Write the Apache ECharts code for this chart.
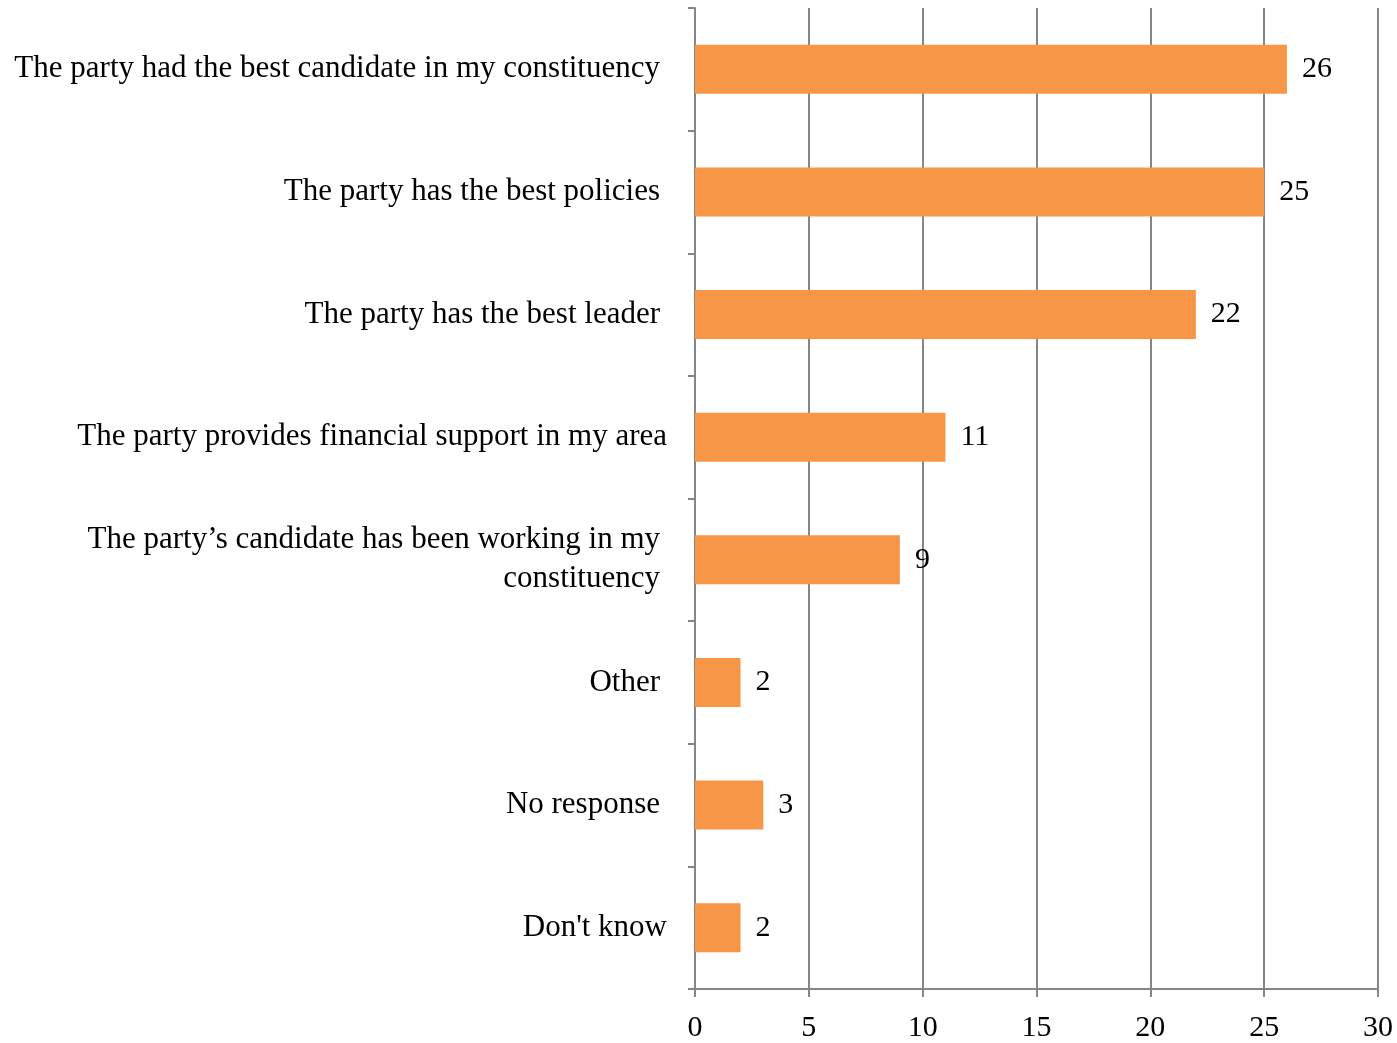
<!DOCTYPE html>
<html>
<head>
<meta charset="utf-8">
<script src="https://cdn.jsdelivr.net/npm/echarts@6/dist/echarts.min.js"></script>
<style>html,body{margin:0;padding:0;background:#fff}#c{width:1397px;height:1043px}</style>
</head>
<body>
<div id="c"></div>
<script>
const categories = [
  "The party had the best candidate in my constituency",
  "The party has the best policies",
  "The party has the best leader",
  "The party provides financial support in my area",
  "The party\u2019s candidate has been working in my\nconstituency",
  "Other",
  "No response",
  "Don't know"
];
const values = [26, 25, 22, 11, 9, 2, 3, 2];
const xTicks = [0, 5, 10, 15, 20, 25, 30];
const shiftedLabels = ["The party provides financial support in my area", "Don't know"];

const font = "'Liberation Serif', 'DejaVu Serif', serif";
const chart = echarts.init(document.getElementById('c'), null, {renderer: 'canvas'});
chart.setOption({
  animation: false,
  backgroundColor: '#fff',
  grid: {left: 695, right: 19, top: 8, bottom: 52, containLabel: false},
  xAxis: {
    type: 'value', min: xTicks[0], max: xTicks[xTicks.length - 1], interval: 5,
    axisLine: {show: true, lineStyle: {color: '#868686', width: 2}},
    axisTick: {show: true, length: 8, lineStyle: {color: '#868686', width: 2}},
    splitLine: {show: true, lineStyle: {color: '#868686', width: 2}},
    axisLabel: {fontFamily: font, fontSize: 30, color: '#000', margin: 24}
  },
  yAxis: {
    type: 'category',
    data: categories.map(c => shiftedLabels.includes(c)
      ? {value: c, textStyle: {padding: [0, -7, 0, 0]}}
      : c),
    inverse: true,
    axisLine: {show: true, lineStyle: {color: '#868686', width: 2}},
    axisTick: {show: true, length: 7, inside: false, lineStyle: {color: '#868686', width: 2}},
    axisLabel: {fontFamily: font, fontSize: 31, color: '#000', margin: 35, align: 'right', lineHeight: 39}
  },
  series: [{
    type: 'bar', data: values, barWidth: 49,
    itemStyle: {color: '#F79646'},
    label: {show: true, position: 'right', distance: 15, fontFamily: font, fontSize: 30, color: '#000'}
  }]
});
</script>
</body>
</html>
